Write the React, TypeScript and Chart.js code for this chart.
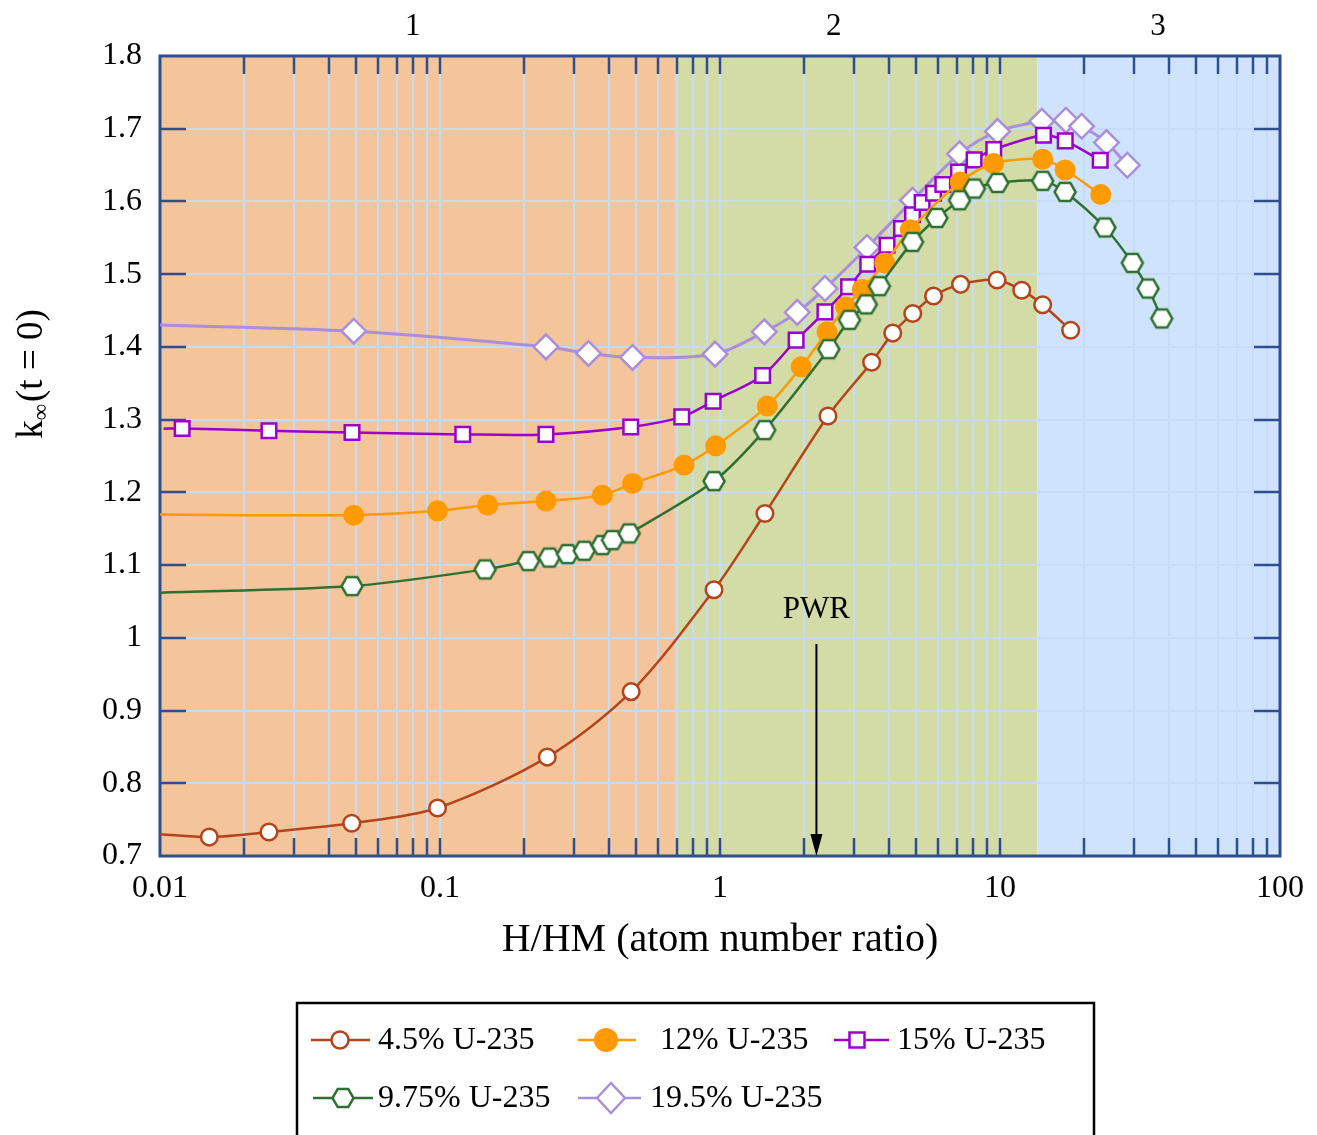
import React, { useEffect, useRef } from 'react';
import { Chart, registerables } from 'chart.js';

Chart.register(...registerables);

const FONT = '"Liberation Serif", "Times New Roman", Times, serif';

// ---------------- data ----------------
const seriesLabels = ['4.5% U-235', '12% U-235', '15% U-235', '9.75% U-235', '19.5% U-235'];

const x45 = [0.01, 0.015, 0.0245, 0.0484, 0.098, 0.2416, 0.4816, 0.952, 1.447, 2.43, 3.48, 4.14, 4.88, 5.79, 7.23, 9.76, 11.96, 14.2, 17.88];
const y45 = [0.730, 0.726, 0.733, 0.745, 0.766, 0.836, 0.926, 1.066, 1.171, 1.305, 1.379, 1.419, 1.446, 1.470, 1.486, 1.492, 1.478, 1.458, 1.423];

const x12 = [0.01, 0.0492, 0.0979, 0.148, 0.239, 0.38, 0.487, 0.744, 0.965, 1.475, 1.95, 2.41, 2.81, 3.22, 3.876, 4.78, 7.21, 9.48, 14.2, 17.08, 22.9];
const y12 = [1.1695, 1.1687, 1.1746, 1.1825, 1.188, 1.1962, 1.2123, 1.2375, 1.264, 1.3186, 1.3726, 1.4207, 1.455, 1.479, 1.5155, 1.561, 1.6269, 1.6522, 1.658, 1.6433, 1.6095];

const x15 = [0.0103, 0.012, 0.0245, 0.0485, 0.1206, 0.239, 0.48, 0.73, 0.945, 1.42, 1.87, 2.37, 2.88, 3.37, 3.95, 4.45, 4.87, 5.27, 5.79, 6.25, 7.11, 8.08, 9.5, 14.3, 17.1, 22.8];
const y15 = [1.2875, 1.2879, 1.2846, 1.2824, 1.2797, 1.2797, 1.290, 1.3038, 1.3254, 1.3608, 1.4093, 1.4482, 1.4826, 1.5137, 1.5399, 1.5628, 1.5818, 1.5985, 1.6114, 1.6233, 1.6406, 1.6572, 1.6715, 1.6911, 1.6833, 1.6567];

const x975 = [0.01, 0.0485, 0.145, 0.207, 0.2457, 0.2855, 0.3275, 0.38, 0.413, 0.474, 0.952, 1.444, 2.446, 2.9, 3.33, 3.71, 4.87, 5.95, 7.17, 8.1, 9.81, 14.2, 17.08, 23.7, 29.7, 33.8, 37.8];
const y975 = [1.062, 1.0711, 1.0941, 1.1055, 1.1103, 1.1151, 1.1197, 1.1275, 1.1344, 1.1436, 1.2155, 1.2856, 1.3969, 1.4372, 1.4585, 1.4835, 1.5444, 1.5773, 1.6017, 1.6178, 1.6254, 1.6283, 1.6131, 1.5642, 1.5155, 1.4803, 1.4391];

const x195 = [0.01, 0.0492, 0.239, 0.339, 0.487, 0.96, 1.439, 1.887, 2.37, 3.35, 4.87, 7.17, 9.8, 14.1, 17.2, 19.57, 24.0, 28.5];
const y195 = [1.430, 1.4216, 1.4001, 1.391, 1.3855, 1.390, 1.4207, 1.4475, 1.4803, 1.5367, 1.6017, 1.6654, 1.6963, 1.7103, 1.7117, 1.7034, 1.681, 1.6498];

const xDecades = [0.01, 0.1, 1, 10, 100];
const xTickLabels = ['0.01', '0.1', '1', '10', '100'];
const yTickValues = [0.7, 0.8, 0.9, 1.0, 1.1, 1.2, 1.3, 1.4, 1.5, 1.6, 1.7, 1.8];
const yTickLabels = ['0.7', '0.8', '0.9', '1', '1.1', '1.2', '1.3', '1.4', '1.5', '1.6', '1.7', '1.8'];

const regionBounds = [0.01, 0.69, 13.6, 100];
const regionLabels = ['1', '2', '3'];
const regionLabelX = [0.08, 2.55, 36.7];
const pwrX = 2.21;
const pwrLabel = 'PWR';
const xTitle = 'H/HM (atom number ratio)';

// ---------------- styles ----------------
const C = {
  brown: '#b4441b',
  orange: '#ff9a00',
  purple: '#9a00cc',
  green: '#2f6f30',
  lavender: '#a98edc',
  grid: '#c6dbf6',
  axis: '#2e4e90',
};
const regionColors = ['#f4c49b', '#d3dba6', '#cfe4fc'];

const xGridValues: number[] = [];
for (let d = 0; d < xDecades.length - 1; d++) {
  for (let k = 1; k <= 9; k++) xGridValues.push(Number((xDecades[d] * k).toPrecision(6)));
}
xGridValues.push(xDecades[xDecades.length - 1]);

function makeHex(R: number, lw: number, stroke: string) {
  const c = document.createElement('canvas');
  const w = Math.ceil(2 * R + lw * 2);
  const h = Math.ceil(Math.sqrt(3) * R + lw * 2);
  c.width = w;
  c.height = h;
  const g = c.getContext('2d')!;
  g.beginPath();
  for (let i = 0; i < 6; i++) {
    const a = (Math.PI / 3) * i;
    const px = w / 2 + R * Math.cos(a);
    const py = h / 2 + R * Math.sin(a);
    if (i === 0) g.moveTo(px, py);
    else g.lineTo(px, py);
  }
  g.closePath();
  g.fillStyle = '#ffffff';
  g.fill();
  g.lineWidth = lw;
  g.strokeStyle = stroke;
  g.stroke();
  return c;
}

function drawSym(ctx: CanvasRenderingContext2D, kind: string, x: number, y: number, hex: HTMLCanvasElement) {
  ctx.save();
  ctx.lineWidth = 2.5;
  if (kind === 'circle') {
    ctx.beginPath();
    ctx.arc(x, y, 8.5, 0, Math.PI * 2);
    ctx.fillStyle = '#fff';
    ctx.fill();
    ctx.strokeStyle = C.brown;
    ctx.stroke();
  } else if (kind === 'dot') {
    ctx.beginPath();
    ctx.arc(x, y, 12, 0, Math.PI * 2);
    ctx.fillStyle = C.orange;
    ctx.fill();
  } else if (kind === 'square') {
    ctx.fillStyle = '#fff';
    ctx.fillRect(x - 7.5, y - 7.5, 15, 15);
    ctx.strokeStyle = C.purple;
    ctx.strokeRect(x - 7.5, y - 7.5, 15, 15);
  } else if (kind === 'hex') {
    ctx.drawImage(hex, x - hex.width / 2, y - hex.height / 2);
  } else if (kind === 'diamond') {
    ctx.beginPath();
    ctx.moveTo(x, y - 15);
    ctx.lineTo(x + 14, y);
    ctx.lineTo(x, y + 15);
    ctx.lineTo(x - 14, y);
    ctx.closePath();
    ctx.fillStyle = '#fff';
    ctx.fill();
    ctx.strokeStyle = C.lavender;
    ctx.stroke();
  }
  ctx.restore();
}

const legendLayout = [
  { kind: 'circle', color: C.brown, x0: 311, x1: 370, mx: 340, tx: 378, y: 1040 },
  { kind: 'dot', color: C.orange, x0: 578, x1: 636, mx: 606, tx: 660, y: 1040 },
  { kind: 'square', color: C.purple, x0: 834, x1: 889, mx: 857, tx: 897, y: 1040 },
  { kind: 'hex', color: C.green, x0: 313, x1: 373, mx: 343, tx: 378, y: 1098 },
  { kind: 'diamond', color: C.lavender, x0: 578, x1: 641, mx: 611, tx: 650, y: 1098 },
];

export default function App() {
  const ref = useRef<HTMLCanvasElement>(null);

  useEffect(() => {
    const canvas = ref.current!;
    const hex = makeHex(10.5, 2.5, C.green);
    const hexLegend = makeHex(10.5, 2.5, C.green);
    const mk = (xs: number[], ys: number[]) => xs.map((x, i) => ({ x, y: ys[i] }));
    const radii = (xs: number[], r: number) => xs.map((_, i) => (i === 0 ? 0 : r));

    const decor = {
      id: 'decor',
      beforeDraw(chart: any) {
        const { ctx, chartArea: a } = chart;
        const xs = chart.scales.x;
        ctx.save();
        for (let i = 0; i < regionColors.length; i++) {
          const p0 = xs.getPixelForValue(regionBounds[i]);
          const p1 = xs.getPixelForValue(regionBounds[i + 1]);
          ctx.fillStyle = regionColors[i];
          ctx.fillRect(p0, a.top, p1 - p0, a.bottom - a.top);
        }
        ctx.restore();
      },
      beforeDatasetsDraw(chart: any) {
        const { ctx, chartArea: a } = chart;
        const xs = chart.scales.x;
        const ys = chart.scales.y;
        ctx.save();
        ctx.strokeStyle = C.axis;
        ctx.lineWidth = 2.5;
        ctx.beginPath();
        for (let i = 1; i < xGridValues.length - 1; i++) {
          const p = Math.round(xs.getPixelForValue(xGridValues[i]));
          ctx.moveTo(p, a.bottom);
          ctx.lineTo(p, a.bottom - 18);
          ctx.moveTo(p, a.top);
          ctx.lineTo(p, a.top + 18);
        }
        for (let i = 1; i < yTickValues.length - 1; i++) {
          const p = Math.round(ys.getPixelForValue(yTickValues[i]));
          ctx.moveTo(a.left, p);
          ctx.lineTo(a.left + 26, p);
          ctx.moveTo(a.right, p);
          ctx.lineTo(a.right - 26, p);
        }
        ctx.stroke();
        ctx.lineWidth = 3;
        ctx.strokeRect(a.left, a.top, a.right - a.left, a.bottom - a.top);
        ctx.restore();
      },
      afterDatasetsDraw(chart: any) {
        const { ctx, chartArea: a } = chart;
        const px = chart.scales.x.getPixelForValue(pwrX);
        ctx.save();
        ctx.fillStyle = '#000';
        ctx.strokeStyle = '#000';
        ctx.font = `31px ${FONT}`;
        ctx.textAlign = 'center';
        ctx.textBaseline = 'middle';
        ctx.fillText(pwrLabel, px, 610);
        ctx.lineWidth = 2;
        ctx.beginPath();
        ctx.moveTo(px, 644);
        ctx.lineTo(px, a.bottom - 18);
        ctx.stroke();
        ctx.beginPath();
        ctx.moveTo(px - 6, a.bottom - 22);
        ctx.lineTo(px + 6, a.bottom - 22);
        ctx.lineTo(px, a.bottom);
        ctx.closePath();
        ctx.fill();
        ctx.restore();
      },
      afterDraw(chart: any) {
        const { ctx } = chart;
        const xs = chart.scales.x;
        ctx.save();
        ctx.fillStyle = '#000';
        // region labels
        ctx.font = `31px ${FONT}`;
        ctx.textAlign = 'center';
        ctx.textBaseline = 'middle';
        regionLabels.forEach((t, i) => ctx.fillText(t, xs.getPixelForValue(regionLabelX[i]), 27));
        // y title
        ctx.save();
        ctx.translate(30, 375);
        ctx.rotate(-Math.PI / 2);
        ctx.textAlign = 'left';
        ctx.textBaseline = 'alphabetic';
        const f1 = `37px ${FONT}`;
        const f2 = `23px ${FONT}`;
        ctx.font = f1;
        const wk = ctx.measureText('k').width;
        const wr = ctx.measureText('(t = 0)').width;
        ctx.font = f2;
        const wi = ctx.measureText('∞').width;
        const x0 = -(wk + wi + wr) / 2;
        ctx.font = f1;
        ctx.fillText('k', x0, 12);
        ctx.font = f2;
        ctx.fillText('∞', x0 + wk, 18);
        ctx.font = f1;
        ctx.fillText('(t = 0)', x0 + wk + wi + 2, 12);
        ctx.restore();
        // legend
        ctx.strokeStyle = '#000';
        ctx.lineWidth = 2.5;
        ctx.strokeRect(297, 1003, 797, 160);
        ctx.font = `32px ${FONT}`;
        ctx.textAlign = 'left';
        ctx.textBaseline = 'middle';
        legendLayout.forEach((L, i) => {
          ctx.strokeStyle = L.color;
          ctx.lineWidth = 2.5;
          ctx.beginPath();
          ctx.moveTo(L.x0, L.y);
          ctx.lineTo(L.x1, L.y);
          ctx.stroke();
          drawSym(ctx, L.kind, L.mx, L.y, hexLegend);
          ctx.fillStyle = '#000';
          ctx.fillText(seriesLabels[i], L.tx, L.y + 1);
        });
        ctx.restore();
      },
    };

    const chart = new Chart(canvas, {
      type: 'scatter',
      data: {
        datasets: [
          {
            label: seriesLabels[0], data: mk(x45, y45), showLine: true, tension: 0.3,
            borderColor: C.brown, borderWidth: 2.5,
            pointStyle: 'circle', pointRadius: radii(x45, 8.3),
            pointBackgroundColor: '#ffffff', pointBorderColor: C.brown, pointBorderWidth: 2.5,
          },
          {
            label: seriesLabels[3], data: mk(x975, y975), showLine: true, tension: 0.3,
            borderColor: C.green, borderWidth: 2.5,
            pointStyle: hex as any, pointRadius: radii(x975, 10),
          },
          {
            label: seriesLabels[1], data: mk(x12, y12), showLine: true, tension: 0.3,
            borderColor: C.orange, borderWidth: 2.5,
            pointStyle: 'circle', pointRadius: radii(x12, 10.5),
            pointBackgroundColor: C.orange, pointBorderColor: C.orange, pointBorderWidth: 0,
          },
          {
            label: seriesLabels[2], data: mk(x15, y15), showLine: true, tension: 0.3,
            borderColor: C.purple, borderWidth: 2.5,
            pointStyle: 'rect', pointRadius: radii(x15, 10.3),
            pointBackgroundColor: '#ffffff', pointBorderColor: C.purple, pointBorderWidth: 2.5,
          },
          {
            label: seriesLabels[4], data: mk(x195, y195), showLine: true, tension: 0.3,
            borderColor: C.lavender, borderWidth: 3,
            pointStyle: 'rectRot', pointRadius: radii(x195, 12.3),
            pointBackgroundColor: '#ffffff', pointBorderColor: C.lavender, pointBorderWidth: 2.5,
          },
        ],
      },
      options: {
        responsive: false,
        animation: false,
        devicePixelRatio: 1,
        layout: { padding: { left: 0, top: 56, right: 35, bottom: 0 } },
        plugins: { legend: { display: false }, tooltip: { enabled: false } },
        scales: {
          x: {
            type: 'logarithmic',
            min: 0.01,
            max: 100,
            afterBuildTicks: (s: any) => {
              s.ticks = xGridValues.map((v) => ({ value: v, major: false }));
            },
            afterFit: (s: any) => {
              s.height = 279;
            },
            grid: { color: C.grid, lineWidth: 2, drawTicks: false },
            border: { display: false },
            ticks: {
              autoSkip: false,
              maxRotation: 0,
              padding: 13,
              color: '#000',
              font: { family: FONT, size: 32 },
              callback: (v: any) => {
                const k = xDecades.findIndex((d) => Math.abs(d - Number(v)) / d < 1e-6);
                return k >= 0 ? xTickLabels[k] : '';
              },
            },
            title: {
              display: true,
              text: xTitle,
              color: '#000',
              font: { family: FONT, size: 40 },
              padding: { top: 0, bottom: 171 },
            },
          },
          y: {
            type: 'linear',
            min: 0.7,
            max: 1.8,
            afterBuildTicks: (s: any) => {
              s.ticks = yTickValues.map((v) => ({ value: v }));
            },
            afterFit: (s: any) => {
              s.width = 160;
            },
            grid: { color: C.grid, lineWidth: 2, drawTicks: false },
            border: { display: false },
            ticks: {
              padding: 18,
              color: '#000',
              font: { family: FONT, size: 32 },
              callback: (v: any) => {
                const k = yTickValues.findIndex((d) => Math.abs(d - Number(v)) < 1e-6);
                return k >= 0 ? yTickLabels[k] : '';
              },
            },
          },
        },
      },
      plugins: [decor],
    } as any);

    return () => chart.destroy();
  }, []);

  return (
    <div style={{ position: 'absolute', left: 0, top: 0, width: 1317, height: 1135, overflow: 'hidden', background: '#fff' }}>
      <canvas ref={ref} width={1317} height={1135} style={{ display: 'block' }} />
    </div>
  );
}
